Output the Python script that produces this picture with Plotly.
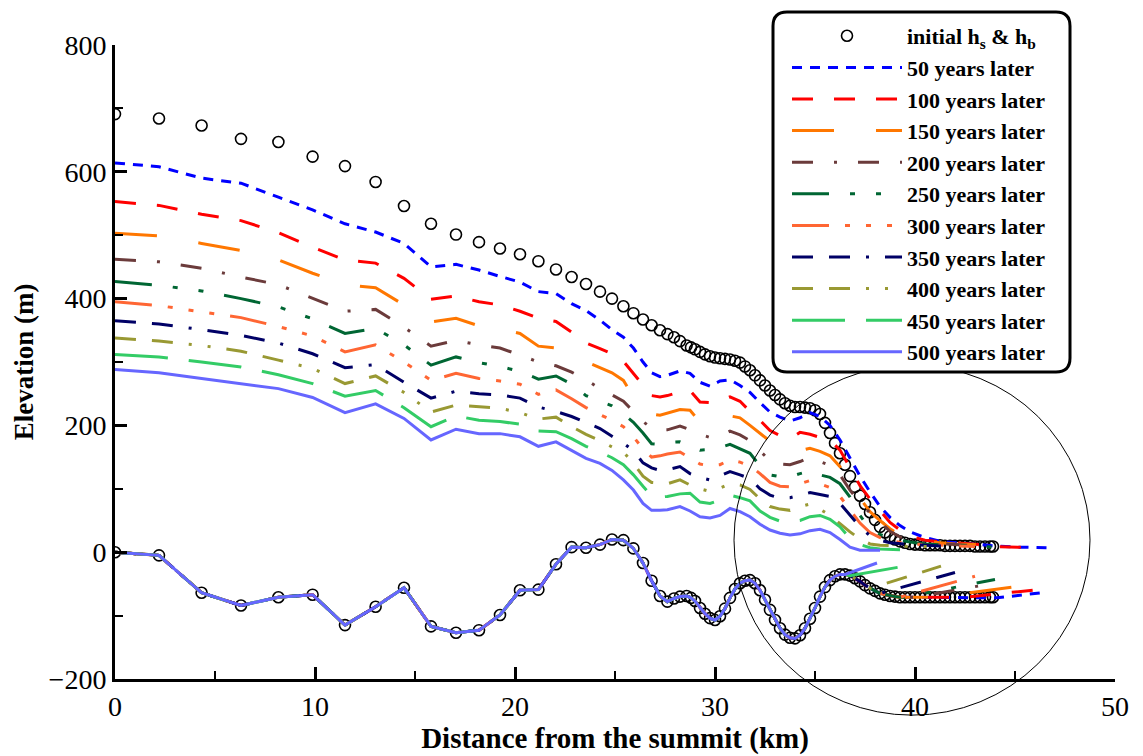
import plotly.graph_objects as go

# ---------------- data ----------------
# initial profile (circles): distance (km), surface h_s (m), bed h_b (m)
INIT_X = [0, 2.2, 4.33, 6.3, 8.17, 9.88, 11.5, 13.03, 14.45, 15.8, 17.05, 18.2, 19.25,
          20.25, 21.17, 22.05, 22.83, 23.55, 24.25, 24.85, 25.42, 25.92, 26.4, 26.83,
          27.25, 27.62, 27.95, 28.25, 28.58, 28.8,
          29.0, 29.25, 29.5, 29.75, 30.0, 30.25, 30.5, 30.75, 31.0, 31.25, 31.5, 31.75,
          32.0, 32.25, 32.5, 32.75, 33.0, 33.25, 33.5, 33.75, 34.0, 34.25, 34.5, 34.75,
          35.0, 35.25, 35.5, 35.75, 36.0, 36.25, 36.5, 36.75, 37.0, 37.25, 37.5, 37.75,
          38.0, 38.25, 38.5, 38.75, 39.0, 39.25, 39.5, 39.75, 40.0, 40.25, 40.5, 40.75,
          41.0, 41.25, 41.5, 41.75, 42.0, 42.25, 42.5, 42.75, 43.0, 43.25, 43.5, 43.75, 43.9]
INIT_HS = [691, 684, 673, 652, 647, 624, 609, 584, 546, 518, 501, 489, 479,
           470, 459, 446, 434, 423, 411, 400, 388, 377, 367, 358,
           350, 344, 339, 333, 326, 323,
           320, 316, 312, 309, 307, 306, 305, 304, 302, 299, 293, 287,
           279, 271, 263, 255, 248, 241, 235, 231, 229, 229, 228, 227,
           224, 218, 204, 188, 172, 156, 138, 120, 103, 89, 76, 63,
           51, 40, 31, 25, 20, 17, 15, 13, 12, 12, 11, 11,
           11, 11, 10, 10, 10, 10, 10, 10, 9, 9, 9, 9, 9]
INIT_HB = [0, -5, -64, -84, -71, -67, -115, -86, -56, -117, -127, -123, -99,
           -60, -59, -19, 8, 7, 12, 20, 19, 6, -17, -45,
           -69, -78, -73, -70, -69, -72,
           -77, -88, -97, -104, -107, -101, -89, -72, -58, -49, -45, -44,
           -49, -60, -75, -91, -107, -120, -130, -135, -136, -131, -120, -105,
           -88, -70, -55, -44, -38, -35, -35, -37, -41, -46, -52, -57,
           -61, -65, -67, -69, -70, -71, -71, -71, -71, -71, -71, -71,
           -71, -71, -71, -71, -71, -71, -71, -71, -71, -71, -71, -71, -71]

# surface grid for the later profiles (km)
SX = [0, 2.2, 4.33, 6.3, 8.17, 9.88, 11.5, 13.03, 14.45, 15.8, 17.05, 18.2, 19.25, 20.25,
      21.17, 22.05, 22.83, 23.55, 24.25, 24.85, 25.42, 25.92, 26.4, 26.83, 27.25, 27.62,
      28.25, 28.75, 29.25, 29.75, 30.25, 30.75, 31.25, 31.75, 32.25, 32.75, 33.25, 33.75,
      34.25, 34.75, 35.25, 35.75, 36.25, 36.75, 37.25, 37.75, 38.25, 38.75, 39.25, 39.75,
      40.5, 41.3, 42.0, 43.0, 43.6, 44.0, 45.1, 45.9, 46.6]

S50 = [614, 608, 590, 582, 560, 540, 518, 505, 487, 450, 454, 445, 435, 426, 411, 408, 392, 381,
       366, 351, 339, 322, 300, 283, 277, 279, 286, 282, 268, 262, 270, 272, 263, 252, 236, 221,
       213, 207, 212, 220, 214, 200, 177, 148, 120, 95, 72, 55, 42, 32, 23, 17, 15, 13, 11, 10,
       8, 7, 7]
S100 = [553, 547, 533, 523, 504, 481, 461, 456, 432, 399, 404, 395, 390, 380, 369, 364, 347, 330,
        321, 313, 301, 282, 262, 247, 245, 247, 253, 255, 237, 236, 239, 245, 238, 222, 208, 192,
        184, 179, 189, 186, 181, 177, 161, 133, 105, 84, 66, 47, 35, 25, 19, 16, 15, 13, 11, 9,
        8, 7]
S150 = [503, 499, 487, 476, 461, 440, 422, 417, 390, 363, 369, 357, 352, 345, 325, 322, 310, 300,
        291, 283, 271, 245, 232, 218, 216, 219, 225, 224, 205, 206, 212, 215, 212, 200, 188, 175,
        165, 159, 160, 164, 159, 152, 135, 104, 85, 64, 50, 37, 27, 21, 17, 15, 13, 12, 10, 9, 8]
S200 = [462, 458, 448, 434, 422, 400, 380, 383, 355, 325, 334, 327, 322, 311, 300, 294, 284, 272,
        258, 248, 238, 222, 206, 196, 193, 193, 199, 193, 186, 181, 183, 191, 185, 176, 160, 144,
        139, 138, 143, 150, 143, 137, 122, 98, 78, 62, 48, 33, 24, 18, 15, 13, 12, 10, 9]
S250 = [427, 421, 412, 400, 387, 368, 345, 353, 327, 295, 308, 299, 293, 285, 273, 278, 265, 247,
        238, 231, 218, 205, 188, 171, 170, 173, 174, 168, 161, 162, 165, 170, 163, 156, 136, 122,
        119, 119, 124, 128, 122, 118, 108, 87, 58, 36, 28, 22, 19, 16, 13, 12, 11, 10, 9, 8]
S300 = [395, 389, 379, 370, 356, 341, 316, 327, 300, 271, 282, 274, 270, 265, 249, 256, 242, 228,
        217, 208, 198, 182, 163, 150, 152, 155, 158, 148, 139, 136, 138, 146, 142, 136, 124, 110,
        104, 103, 108, 113, 108, 102, 88, 66, 46, 31, 23, 18, 15, 13, 12, 11, 10, 9]
S350 = [365, 360, 351, 342, 330, 313, 291, 296, 268, 243, 254, 250, 248, 243, 229, 222, 214, 205,
        195, 183, 172, 160, 141, 133, 129, 130, 135, 124, 118, 114, 120, 127, 122, 116, 100, 90,
        85, 86, 90, 94, 91, 88, 77, 58, 40, 26, 19, 15, 13, 12, 11, 10, 9]
S400 = [338, 333, 326, 317, 303, 290, 266, 278, 252, 221, 232, 229, 227, 220, 210, 213, 198, 186,
        176, 166, 158, 140, 120, 110, 109, 108, 114, 106, 100, 96, 101, 108, 106, 99, 84, 72,
        68, 66, 72, 76, 68, 58, 45, 32, 21, 13, 11, 10, 10, 9, 9, 9]
S450 = [312, 308, 300, 292, 280, 266, 246, 255, 228, 198, 215, 208, 206, 202, 191, 190, 179, 167,
        158, 149, 138, 122, 104, 89, 87, 88, 92, 93, 79, 77, 82, 90, 86, 81, 65, 55, 49, 48, 50,
        56, 58, 52, 40, 22, 12, 7, 5, 4, 4]
S500 = [288, 283, 274, 266, 258, 244, 220, 234, 211, 177, 194, 187, 187, 182, 167, 174, 161, 148,
        140, 129, 114, 98, 77, 66, 66, 67, 72, 65, 56, 54, 58, 69, 64, 56, 44, 35, 30, 27, 29, 34,
        36, 31, 20, 8, 3, 3, 3]

# grounding-line positions (km) and floating ice-bottom points beyond them
GL_X = [43.5, 42.5, 41.0, 40.2, 39.6, 39.25, 38.25, 37.75, 36.75, 36.5]
F50_X, F50_Y = [44.1, 46.6], [-72, -63]
F100_X, F100_Y = [44.0, 45.9], [-66, -60]
F150_X, F150_Y = [45.1], [-54]
F200_X, F200_Y = [43.6], [-51]
F250_X, F250_Y = [44.0], [-43]
F300_X, F300_Y = [43.0], [-38]
F350_X, F350_Y = [42.0], [-32]
F400_X, F400_Y = [41.3], [-22]
F450_X, F450_Y = [39.3], [-23]
F500_X, F500_Y = [38.1], [-17]

LABELS = ["50 years later", "100 years later", "150 years later", "200 years later",
          "250 years later", "300 years later", "350 years later", "400 years later",
          "450 years later", "500 years later"]

# ---------------- styles ----------------
COLORS = ["#0000FF", "#FF0000", "#FF7700", "#6B3B3B", "#006633", "#FF6633",
          "#000066", "#999933", "#33CC66", "#6666FF"]
DASHES = ["10px,8px", "21px,21px", "42px,42px", "21px,21px,3px,21px",
          "37px,21px,5px,21px,5px,21px", "37px,16px,5px,16px,5px,16px,5px,16px",
          "21px,16px,21px,16px,3px,16px", "21px,16px,21px,16px,3px,16px,3px,16px",
          "53px,21px", "solid"]

SURFS = [S50, S100, S150, S200, S250, S300, S350, S400, S450, S500]
FLOATS = [(F50_X, F50_Y), (F100_X, F100_Y), (F150_X, F150_Y), (F200_X, F200_Y),
          (F250_X, F250_Y), (F300_X, F300_Y), (F350_X, F350_Y), (F400_X, F400_Y),
          (F450_X, F450_Y), (F500_X, F500_Y)]

XR = [0, 50]
YR = [-200, 800]
W, H = 1143, 756
ML, MR, MT, MB = 115, 28, 45, 77
SERIF = "Liberation Serif"

fig = go.Figure()

# initial profile circles
fig.add_trace(go.Scatter(
    x=INIT_X + [None] + INIT_X,
    y=INIT_HS + [None] + INIT_HB,
    mode="markers",
    marker=dict(symbol="circle-open", size=11, color="black", line=dict(width=1.6, color="black")),
    name="initial h<sub>s</sub> & h<sub>b</sub>",
))

for i, (lab, col, dash, surf, (fx, fy), gl) in enumerate(
        zip(LABELS, COLORS, DASHES, SURFS, FLOATS, GL_X)):
    sx = SX[:len(surf)]
    bx = [x for x in INIT_X if x <= gl] + fx
    by = [b for x, b in zip(INIT_X, INIT_HB) if x <= gl] + fy
    fig.add_trace(go.Scatter(
        x=sx + [None] + bx,
        y=surf + [None] + by,
        mode="lines",
        line=dict(color=col, width=3, dash=dash),
        name=lab,
    ))

# pixel -> paper helpers for decorations
PW = W - ML - MR
PH = H - MT - MB


def px2paper_x(px):
    return (px - ML) / PW


def px2paper_y(py):
    return (H - MB - py) / PH


shapes = []
# highlight circle (data units: centre km, m; radii km, m)
CIRC_C = (39.85, 19)
CIRC_R = (8.9, 276)
shapes.append(dict(
    type="circle", xref="paper", yref="paper",
    x0=(CIRC_C[0] - CIRC_R[0] - XR[0]) / (XR[1] - XR[0]),
    x1=(CIRC_C[0] + CIRC_R[0] - XR[0]) / (XR[1] - XR[0]),
    y0=(CIRC_C[1] - CIRC_R[1] - YR[0]) / (YR[1] - YR[0]),
    y1=(CIRC_C[1] + CIRC_R[1] - YR[0]) / (YR[1] - YR[0]),
    line=dict(color="black", width=1), layer="above",
))

# legend frame with rounded corners
LX0, LX1, LY0, LY1, RAD = 773, 1070, 12, 372, 14
x0, x1 = px2paper_x(LX0), px2paper_x(LX1)
y0, y1 = px2paper_y(LY1), px2paper_y(LY0)
rx, ry = RAD / PW, RAD / PH
path = (f"M{x0 + rx},{y1} L{x1 - rx},{y1} Q{x1},{y1} {x1},{y1 - ry} "
        f"L{x1},{y0 + ry} Q{x1},{y0} {x1 - rx},{y0} L{x0 + rx},{y0} "
        f"Q{x0},{y0} {x0},{y0 + ry} L{x0},{y1 - ry} Q{x0},{y1} {x0 + rx},{y1} Z")
shapes.append(dict(type="path", xref="paper", yref="paper", path=path,
                   fillcolor="white", line=dict(color="black", width=3), layer="above"))

fig.update_layout(
    width=W, height=H,
    margin=dict(l=ML, r=MR, t=MT, b=MB),
    paper_bgcolor="white", plot_bgcolor="rgba(0,0,0,0)",
    font=dict(family=SERIF, color="black"),
    shapes=shapes,
    showlegend=True,
    legend=dict(
        x=px2paper_x(LX0 + 14), y=px2paper_y(LY0 + 3), xanchor="left", yanchor="top",
        bgcolor="rgba(0,0,0,0)", borderwidth=0,
        font=dict(family=SERIF, size=22, color="black", weight="bold"),
        itemwidth=110, traceorder="normal",
    ),
    xaxis=dict(
        range=XR, dtick=10, tick0=0, showgrid=False, zeroline=False,
        showline=True, linecolor="black", linewidth=3,
        ticks="inside", ticklen=12, tickwidth=2.5, tickcolor="black",
        minor=dict(ticks="inside", ticklen=8, tickwidth=2, tickcolor="black", dtick=5, showgrid=False),
        tickfont=dict(family=SERIF, size=28, color="black"),
        title=dict(text="Distance from the summit (km)",
                   font=dict(family=SERIF, size=29, color="black", weight="bold"), standoff=2),
    ),
    yaxis=dict(
        range=YR, dtick=200, tick0=0, showgrid=False, zeroline=False,
        showline=True, linecolor="black", linewidth=3,
        ticks="inside", ticklen=12, tickwidth=2.5, tickcolor="black",
        minor=dict(ticks="inside", ticklen=8, tickwidth=2, tickcolor="black", dtick=100, showgrid=False),
        tickfont=dict(family=SERIF, size=28, color="black"),
        title=dict(text="Elevation (m)",
                   font=dict(family=SERIF, size=27, color="black", weight="bold"), standoff=8),
    ),
)

fig.write_html("out.html")
